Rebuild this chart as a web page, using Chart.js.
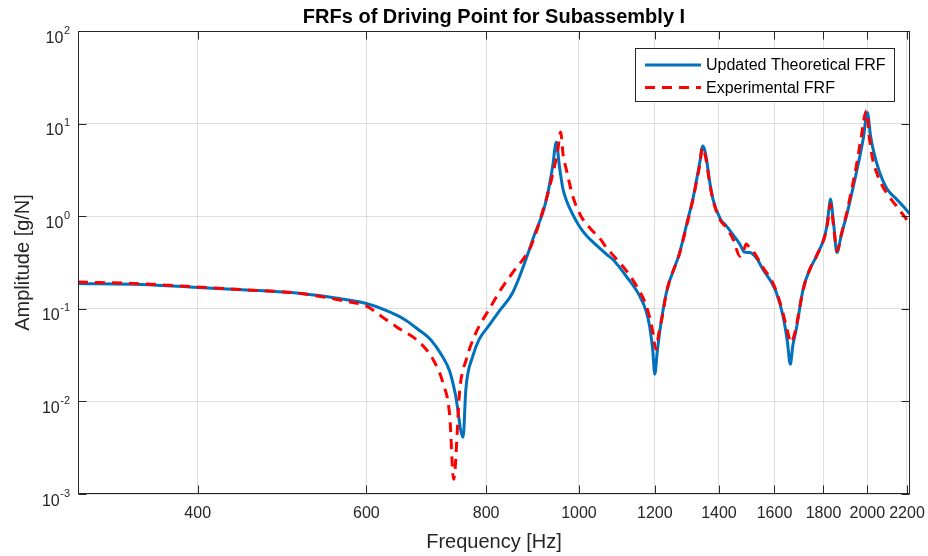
<!DOCTYPE html>
<html>
<head>
<meta charset="utf-8">
<title>FRFs of Driving Point for Subassembly I</title>
<script src="https://cdn.jsdelivr.net/npm/chart.js@4.4.1/dist/chart.umd.min.js"></script>
<style>
  html, body { margin: 0; padding: 0; background: #fff; }
  canvas { display: block; }
</style>
</head>
<body>
<canvas id="frfChart" width="928" height="556"></canvas>
<script>
// Valores (frequência em Hz, amplitude em g/N)
const chartTitle = 'FRFs of Driving Point for Subassembly I';
const xLabel = 'Frequency [Hz]';
const yLabel = 'Amplitude [g/N]';
const seriesLabels = ['Updated Theoretical FRF', 'Experimental FRF'];

const xTicks = [400, 600, 800, 1000, 1200, 1400, 1600, 1800, 2000, 2200];
const yTicks = [1e-3, 1e-2, 1e-1, 1e0, 1e1, 1e2];

const freqTheo = [300, 350, 400, 450, 510, 570, 600, 628, 657, 679, 701, 718, 733, 743, 757, 762, 775, 787, 805, 826,
    853, 888, 895, 917, 923, 931, 939, 947, 954, 962, 970, 985, 1001, 1018, 1040, 1068, 1085, 1120,
    1157, 1175, 1185, 1194, 1200, 1207, 1214, 1234, 1274, 1300, 1315, 1327, 1337, 1347, 1358, 1368, 1380, 1405, 1425, 1450,
    1472, 1488, 1507, 1530, 1556, 1590, 1607, 1633, 1650, 1662, 1672, 1686, 1714, 1740, 1770, 1812, 1822, 1830, 1845, 1859,
    1880, 1902, 1925, 1948, 1980, 2000, 2015, 2028, 2060, 2090, 2111, 2145, 2180, 2216];
const ampTheo = [0.188, 0.183, 0.170, 0.160, 0.147, 0.126, 0.114, 0.0966, 0.0772, 0.0602, 0.0458, 0.0323, 0.0212, 0.0120, 0.0041, 0.0135, 0.031, 0.047, 0.0654, 0.095,
    0.150, 0.44, 0.564, 1.10, 1.40, 2.1, 3.5, 6.3, 3.5, 2.0, 1.5, 1.05, 0.78, 0.62, 0.50, 0.39, 0.34, 0.226,
    0.138, 0.095, 0.0654, 0.036, 0.0197, 0.034, 0.0555, 0.150, 0.405, 0.95, 1.53, 2.5, 3.8, 5.74, 4.3, 2.5, 1.53, 0.93, 0.786, 0.62,
    0.50, 0.41, 0.405, 0.36, 0.268, 0.19, 0.150, 0.0838, 0.045, 0.0252, 0.040, 0.0602, 0.163, 0.26, 0.373, 0.724, 1.1, 1.53, 0.8, 0.405,
    0.65, 1.0, 1.7, 2.96, 6.78, 13.2, 7.5, 5.29, 2.96, 2.1, 1.80, 1.53, 1.28, 1.05];

const freqExp = [300, 350, 400, 450, 510, 570, 600, 625, 647, 682, 704, 721, 733, 740, 751, 763, 781, 806, 830, 853,
    888, 900, 917, 930, 940, 950, 957, 963, 970, 985, 1005, 1030, 1051, 1068, 1090, 1120, 1148, 1176, 1193, 1203,
    1212, 1224, 1234, 1274, 1300, 1315, 1327, 1337, 1345, 1358, 1368, 1380, 1405, 1425, 1450, 1472, 1485, 1495, 1507, 1520,
    1556, 1590, 1607, 1633, 1650, 1665, 1676, 1686, 1714, 1740, 1770, 1812, 1822, 1830, 1845, 1859, 1880, 1902, 1925, 1948,
    1970, 1995, 2010, 2025, 2045, 2070, 2094, 2120, 2150, 2185, 2218];
const ampExp = [0.195, 0.186, 0.172, 0.160, 0.147, 0.121, 0.107, 0.080, 0.0626, 0.0433, 0.0286, 0.016, 0.0070, 0.00144, 0.0135, 0.0286, 0.0555, 0.099, 0.165, 0.247,
    0.44, 0.62, 1.15, 1.9, 3.0, 5.0, 8.1, 4.5, 3.22, 1.66, 1.0, 0.72, 0.58, 0.46, 0.36, 0.26, 0.177, 0.107, 0.06, 0.0366,
    0.055, 0.0912, 0.15, 0.40, 0.92, 1.5, 2.4, 3.6, 5.5, 4.0, 2.4, 1.5, 0.90, 0.76, 0.55, 0.37, 0.42, 0.50, 0.46, 0.42,
    0.28, 0.20, 0.155, 0.09, 0.058, 0.0433, 0.05, 0.065, 0.16, 0.26, 0.37, 0.70, 1.0, 1.35, 0.75, 0.42, 0.65, 1.05, 1.9, 3.5,
    7.0, 13.7, 7.0, 4.2, 2.96, 2.2, 1.80, 1.5, 1.25, 1.0, 0.82];

const FONT = '"Liberation Sans", Arial, Helvetica, sans-serif';
const textColor = '#262626';
const axisColor = '#262626';
const gridColor = 'rgba(38, 38, 38, 0.15)';

function pontos(xs, ys) {
    return xs.map((x, i) => ({ x: x, y: ys[i] }));
}

// Moldura, ticks internos, rótulos do eixo y com expoente, títulos e legenda
const moldura = {
    id: 'moldura',
    afterDraw(chart) {
        const { ctx, chartArea: a, scales: { x, y } } = chart;
        const L = Math.round(a.left) + 0.5, R = Math.round(a.right) - 0.5;
        const T = Math.round(a.top) + 0.5, B = Math.round(a.bottom) - 0.5;
        const tl = 8;
        ctx.save();

        // caixa
        ctx.strokeStyle = axisColor;
        ctx.lineWidth = 1;
        ctx.strokeRect(L, T, R - L, B - T);

        // ticks para dentro
        ctx.beginPath();
        xTicks.forEach(v => {
            const px = Math.round(x.getPixelForValue(v)) + 0.5;
            ctx.moveTo(px, B); ctx.lineTo(px, B - tl);
            ctx.moveTo(px, T); ctx.lineTo(px, T + tl);
        });
        yTicks.forEach(v => {
            const py = Math.round(y.getPixelForValue(v)) + 0.5;
            ctx.moveTo(L, py); ctx.lineTo(L + tl, py);
            ctx.moveTo(R, py); ctx.lineTo(R - tl, py);
        });
        ctx.stroke();

        // rótulos do eixo y: 10^n
        ctx.fillStyle = textColor;
        ctx.textBaseline = 'alphabetic';
        ctx.textAlign = 'right';
        yTicks.forEach(v => {
            const py = y.getPixelForValue(v);
            const expo = String(Math.round(Math.log10(v)));
            ctx.font = '11px ' + FONT;
            const w = ctx.measureText(expo).width;
            ctx.fillText(expo, a.left - 8, py + 2.5);
            ctx.font = '16px ' + FONT;
            ctx.fillText('10', a.left - 8 - w - 0.5, py + 11.5);
        });

        // título
        const cx = (a.left + a.right) / 2;
        ctx.textAlign = 'center';
        ctx.font = 'bold 20px ' + FONT;
        ctx.fillStyle = '#000';
        ctx.fillText(chartTitle, cx, 23);

        // títulos dos eixos
        ctx.fillStyle = textColor;
        ctx.font = '20px ' + FONT;
        ctx.fillText(xLabel, cx, 548);
        ctx.save();
        ctx.translate(29, (a.top + a.bottom) / 2);
        ctx.rotate(-Math.PI / 2);
        ctx.fillText(yLabel, 0, 0);
        ctx.restore();

        // legenda
        const bx = 635, by = 48, bw = 259, bh = 53;
        ctx.fillStyle = '#fff';
        ctx.fillRect(bx, by, bw, bh);
        ctx.strokeStyle = axisColor;
        ctx.strokeRect(bx + 0.5, by + 0.5, bw, bh);
        const rows = [65, 87.5];
        chart.data.datasets.forEach((ds, i) => {
            ctx.strokeStyle = ds.borderColor;
            ctx.lineWidth = ds.borderWidth;
            ctx.setLineDash(ds.borderDash || []);
            ctx.beginPath();
            ctx.moveTo(645, rows[i]);
            ctx.lineTo(701, rows[i]);
            ctx.stroke();
            ctx.setLineDash([]);
            ctx.fillStyle = '#000';
            ctx.font = '16px ' + FONT;
            ctx.textAlign = 'left';
            ctx.textBaseline = 'middle';
            ctx.fillText(ds.label, 706, rows[i] + 1);
        });
        ctx.restore();
    }
};

new Chart(document.getElementById('frfChart'), {
    type: 'line',
    data: {
        datasets: [{
            label: seriesLabels[0],
            data: pontos(freqTheo, ampTheo),
            borderColor: '#0072BD',
            borderWidth: 3,
            pointRadius: 0,
            cubicInterpolationMode: 'monotone',
            fill: false,
            order: 1
        }, {
            label: seriesLabels[1],
            data: pontos(freqExp, ampExp),
            borderColor: '#FF0000',
            borderWidth: 3,
            borderDash: [10, 7],
            pointRadius: 0,
            cubicInterpolationMode: 'monotone',
            fill: false,
            order: 0
        }]
    },
    options: {
        responsive: false,
        animation: false,
        devicePixelRatio: 1,
        layout: { padding: { top: 31, right: 18, left: 0, bottom: 0 } },
        plugins: {
            legend: { display: false },
            title: { display: false },
            tooltip: { enabled: false }
        },
        scales: {
            x: {
                type: 'logarithmic',
                min: 300,
                max: 2216,
                afterBuildTicks: s => { s.ticks = xTicks.map(v => ({ value: v })); },
                afterFit: s => { s.height = 62; s.paddingLeft = 0; s.paddingRight = 0; },
                grid: { color: gridColor, drawTicks: false },
                border: { display: false },
                ticks: {
                    autoSkip: false,
                    maxRotation: 0,
                    padding: 10,
                    color: textColor,
                    font: { family: FONT, size: 16 },
                    callback: v => String(v)
                }
            },
            y: {
                type: 'logarithmic',
                min: 1e-3,
                max: 1e2,
                afterBuildTicks: s => { s.ticks = yTicks.map(v => ({ value: v })); },
                afterFit: s => { s.width = 78; },
                grid: { color: gridColor, drawTicks: false },
                border: { display: false },
                ticks: { display: false }
            }
        }
    },
    plugins: [moldura]
});
</script>
</body>
</html>
